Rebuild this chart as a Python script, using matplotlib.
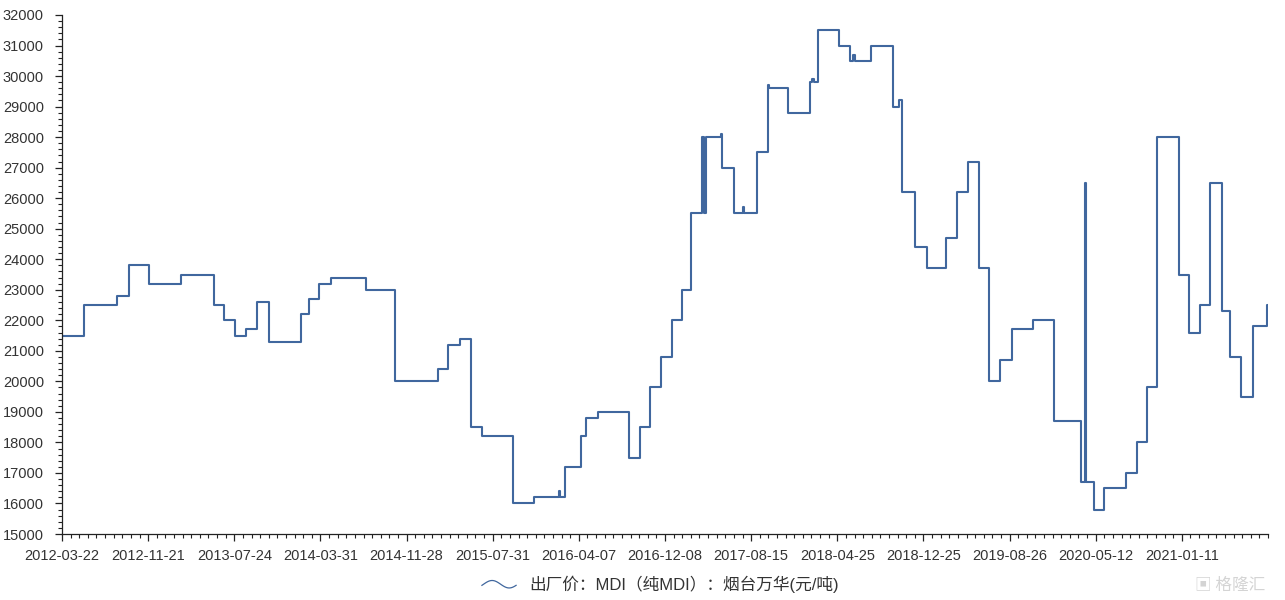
import numpy as np
import matplotlib
matplotlib.use("Agg")
import matplotlib.pyplot as plt
from matplotlib.lines import Line2D
from matplotlib.legend_handler import HandlerBase
from matplotlib.ticker import MultipleLocator

plt.rcParams['font.family'] = ['Liberation Sans', 'Noto Sans CJK SC', 'DejaVu Sans']

# trading-day index where each price level starts, and the level (元/吨)
step_start = [0, 40, 103, 125, 161, 221, 283, 301, 322, 342, 363, 384, 443, 458, 477,
              499, 564, 618, 698, 717, 739, 760, 781, 837, 876, 923, 925, 935, 964, 974,
              996, 1054, 1074, 1092, 1113, 1133, 1152, 1168, 1189, 1192, 1196, 1224, 1226, 1248,
              1265, 1267, 1290, 1311, 1313, 1349, 1390, 1393, 1396, 1404, 1443, 1464, 1470,
              1472, 1503, 1544, 1555, 1561, 1584, 1606, 1641, 1663, 1683, 1703, 1722, 1742,
              1764, 1804, 1842, 1893, 1900, 1902, 1916, 1936, 1976, 1996, 2016, 2034, 2075,
              2094, 2114, 2133, 2154, 2170, 2190, 2212, 2238, 2240]
step_value = [21500, 22500, 22800, 23800, 23200, 23500, 22500, 22000, 21500, 21700, 22600,
              21300, 22200, 22700, 23200, 23400, 23000, 20000, 20400, 21200, 21400, 18500,
              18200, 16000, 16200, 16400, 16200, 17200, 18200, 18800, 19000, 17500, 18500,
              19800, 20800, 22000, 23000, 25500, 28000, 25500, 28000, 28100, 27000, 25500,
              25700, 25500, 27500, 29700, 29600, 28800, 29800, 29900, 29800, 31500, 31000,
              30500, 30700, 30500, 31000, 29000, 29200, 26200, 24400, 23700, 24700, 26200,
              27200, 23700, 20000, 20700, 21700, 22000, 18700, 16700, 26500, 16700, 15800,
              16500, 17000, 18000, 19800, 28000, 23500, 21600, 22500, 26500, 22300, 20800,
              19500, 21800, 22500, 22500]

tick_labels = ["2012-03-22", "2012-11-21", "2013-07-24", "2014-03-31", "2014-11-28",
               "2015-07-31", "2016-04-07", "2016-12-08", "2017-08-15", "2018-04-25",
               "2018-12-25", "2019-08-26", "2020-05-12", "2021-01-11"]
label_every = 160
series_name = "出厂价：MDI（纯MDI）：烟台万华(元/吨)"
line_color = "#40679e"


class WaveHandler(HandlerBase):
    def create_artists(self, legend, orig_handle, xdescent, ydescent,
                       width, height, fontsize, trans):
        t = np.linspace(0, 1, 40)
        xs = -xdescent + t * width
        ys = height / 2 - ydescent + 0.32 * height * np.sin(2 * np.pi * t - 0.3)
        ln = Line2D(xs, ys, color=line_color, lw=0.9, transform=trans)
        return [ln]


fig = plt.figure(figsize=(12.85, 6), dpi=100)
ax = fig.add_axes([62 / 1285, 66 / 600, (1268 - 62) / 1285, (534 - 15) / 600])

line, = ax.plot(step_start, step_value, drawstyle="steps-post", color=line_color, lw=1.5)

ax.set_xlim(0, step_start[-1])
ax.set_ylim(15000, 32000)
ax.set_xticks(np.arange(len(tick_labels)) * label_every)
ax.set_xticklabels(tick_labels)
ax.xaxis.set_minor_locator(MultipleLocator(label_every / 10))
ax.yaxis.set_major_locator(MultipleLocator(1000))
ax.yaxis.set_minor_locator(MultipleLocator(200))

for s in ["top", "right"]:
    ax.spines[s].set_visible(False)
for s in ["left", "bottom"]:
    ax.spines[s].set_color("#222222")
    ax.spines[s].set_linewidth(0.9)

ax.tick_params(axis="both", which="major", direction="out", length=5, width=0.9,
               color="#222222", labelsize=10.5, labelcolor="#333333")
ax.tick_params(axis="both", which="minor", direction="out", length=3.2, width=0.8,
               color="#222222")
ax.tick_params(axis="x", which="major", pad=6)
ax.tick_params(axis="y", which="major", pad=8)

fig.legend([line], [series_name], handler_map={Line2D: WaveHandler()},
           loc="center", bbox_to_anchor=(0.514, 0.026), frameon=False,
           fontsize=12, handlelength=2.05, handletextpad=0.8,
           labelcolor="#333333")

fig.text(0.985, 0.025, "▣ 格隆汇", ha="right", va="center", fontsize=12,
         color="#d4d4d4", family=["Noto Sans CJK SC", "DejaVu Sans"])

fig.savefig("out.png", dpi=100)
